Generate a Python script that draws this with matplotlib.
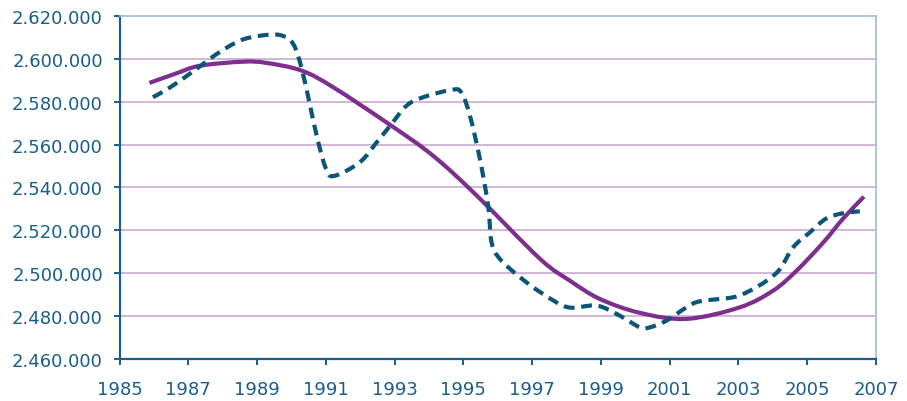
import matplotlib
matplotlib.use("Agg")
import matplotlib.pyplot as plt
from matplotlib.path import Path
from matplotlib.patches import PathPatch
from matplotlib.ticker import FuncFormatter, MultipleLocator

# dashed series (thousands)
dash_years = [1985.97, 1986.47, 1987.10, 1987.83, 1988.50, 1989.09, 1989.67, 1990.05,
              1990.30, 1990.54, 1990.78, 1991.03, 1991.27, 1991.99, 1992.48, 1992.87,
              1993.35, 1993.83, 1994.61, 1994.93, 1995.19, 1995.48, 1995.72, 1995.82,
              1996.06, 1996.65, 1997.32, 1998.05, 1998.88, 1999.55, 2000.14, 2000.43,
              2000.91, 2001.49, 2001.88, 2002.85, 2003.34, 2003.82, 2004.21, 2004.59,
              2005.08, 2005.56, 2006.05, 2006.53]
dash_vals = [2582.1, 2586.7, 2593.7, 2602.3, 2608.5, 2610.8, 2611.1, 2607.0,
             2595.3, 2578.2, 2561.1, 2547.8, 2545.5, 2551.8, 2561.1, 2568.8,
             2578.2, 2582.1, 2585.4, 2584.6, 2573.5, 2553.3, 2531.5, 2514.4,
             2506.7, 2498.1, 2490.3, 2484.1, 2484.9, 2480.2, 2474.7, 2474.8,
             2477.9, 2484.1, 2486.9, 2488.8, 2491.9, 2496.5, 2502.0, 2512.1,
             2519.1, 2525.6, 2528.0, 2528.9]

# smooth trend series
trend_years = [1985.87, 1986.61, 1987.34, 1988.60, 1989.28, 1990.30, 1991.22,
               1992.87, 1994.12, 1995.39, 1997.23, 1998.10, 1998.97,
               2000.14, 2001.49, 2003.04, 2004.01, 2004.69, 2005.47, 2006.05, 2006.65]
trend_vals = [2588.8, 2593.0, 2596.8, 2598.7, 2598.1, 2594.5, 2586.7,
              2569.2, 2554.8, 2536.2, 2506.7, 2496.5, 2488.0,
              2481.5, 2478.7, 2484.1, 2491.9, 2501.2, 2514.4, 2525.6, 2535.7]

dash_vals = [v * 1000 for v in dash_vals]
trend_vals = [v * 1000 for v in trend_vals]

DARK = "#1b5e8a"
LIGHT = "#9dbdd5"


def smooth_path(xs, ys):
    # catmull-rom -> cubic bezier, like excel's "smoothed line"
    pts = list(zip(xs, ys))
    verts = [pts[0]]
    codes = [Path.MOVETO]
    n = len(pts)
    for i in range(n - 1):
        p0 = pts[max(i - 1, 0)]
        p1 = pts[i]
        p2 = pts[i + 1]
        p3 = pts[min(i + 2, n - 1)]
        c1 = (p1[0] + (p2[0] - p0[0]) / 6, p1[1] + (p2[1] - p0[1]) / 6)
        c2 = (p2[0] - (p3[0] - p1[0]) / 6, p2[1] - (p3[1] - p1[1]) / 6)
        verts += [c1, c2, p2]
        codes += [Path.CURVE4] * 3
    return Path(verts, codes)


fig = plt.figure(figsize=(9.07, 4.02), dpi=100)
ax = fig.add_axes([0.1318, 0.1045, 0.834, 0.8532])

for v in range(2480000, 2620000, 20000):
    ax.axhline(v, color="#cba9d4", lw=1.2, zorder=1)

ax.add_patch(PathPatch(smooth_path(trend_years, trend_vals), fill=False,
                       edgecolor="#7e2e8c", lw=3, capstyle="butt", joinstyle="round", zorder=3))
ax.add_patch(PathPatch(smooth_path(dash_years, dash_vals), fill=False,
                       edgecolor="#0b5579", lw=3, linestyle=(0, (2.6, 1.6)), zorder=4))

ax.set_xlim(1985, 2007)
ax.set_ylim(2460000, 2620000)
ax.set_xticks(range(1985, 2008, 2))
ax.yaxis.set_major_locator(MultipleLocator(20000))
ax.yaxis.set_major_formatter(FuncFormatter(lambda v, p: f"{v:,.0f}".replace(",", ".")))

for s in ["left", "bottom"]:
    ax.spines[s].set_color(DARK)
    ax.spines[s].set_linewidth(1.6)
for s in ["top", "right"]:
    ax.spines[s].set_color(LIGHT)
    ax.spines[s].set_linewidth(1.2)

ax.tick_params(axis="both", direction="out", length=4, width=1.4, color=DARK,
               labelcolor=DARK, labelsize=13)
ax.tick_params(axis="y", pad=8)
ax.tick_params(axis="x", pad=11)

fig.savefig("out.png", dpi=100)
